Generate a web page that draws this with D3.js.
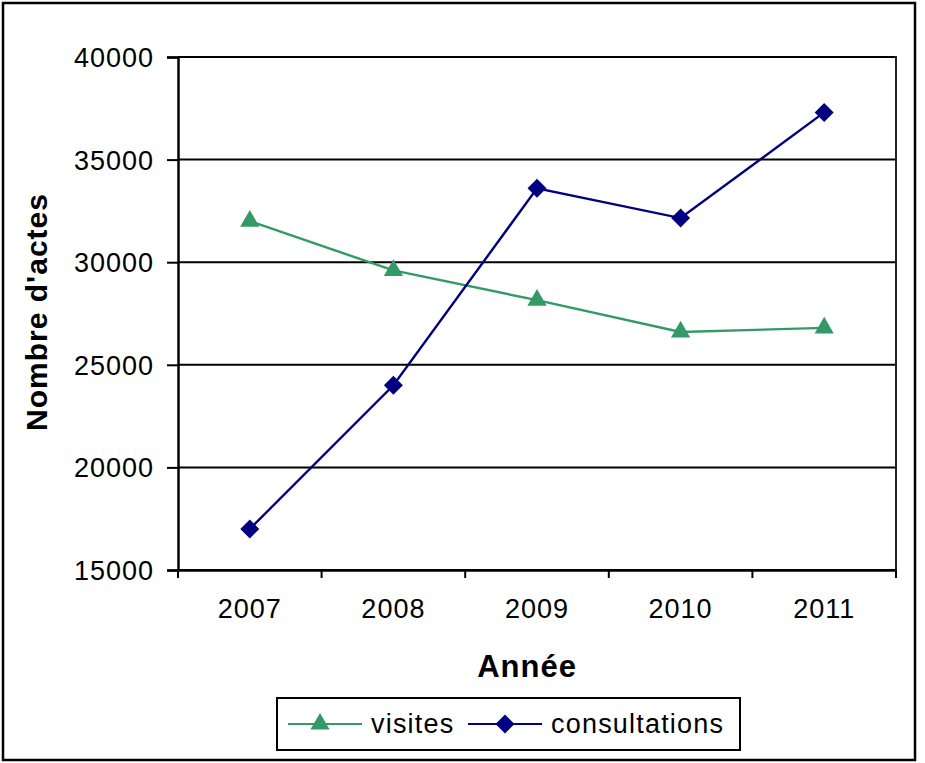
<!DOCTYPE html>
<meta charset="utf-8">
<style>
body { margin: 0; background: #fff; }
text { font-family: Arial, "Liberation Sans", sans-serif; letter-spacing: 1px; }
</style>
<svg width="925" height="763"></svg>
<script src="https://d3js.org/d3.v7.min.js"></script>
<script>
var svg = d3.select("svg");

// data
var years = ["2007", "2008", "2009", "2010", "2011"];
var visites = [32000, 29600, 28150, 26600, 26800];
var consultations = [17000, 24000, 33600, 32150, 37300];
var yTicks = [15000, 20000, 25000, 30000, 35000, 40000];

// diamond = square turned 45 degrees
var diamond = {draw: function(ctx, size) {
  var r = Math.sqrt(size / 2);
  ctx.moveTo(0, -r); ctx.lineTo(r, 0); ctx.lineTo(0, r); ctx.lineTo(-r, 0); ctx.closePath();
}};

var series = [
  {name: "visites", values: visites, color: "#339966", shape: d3.symbolTriangle, size: 160},
  {name: "consultations", values: consultations, color: "#000080", shape: diamond, size: 180}
];

var pLeft = 178, pRight = 896, pTop = 57, pBottom = 570;

//outer frame
svg.append("rect")
  .attr("x", 3).attr("y", 3).attr("width", 912).attr("height", 757)
  .attr("fill", "#fff").attr("stroke", "#000").attr("stroke-width", 2.5);

var x = d3.scaleBand().domain(years).range([pLeft, pRight]);
var y = d3.scaleLinear().domain([15000, 40000]).range([pBottom, pTop]);

//gridlines
svg.append("g")
  .selectAll("line")
  .data(yTicks)
  .enter().append("line")
  .attr("x1", pLeft).attr("x2", pRight)
  .attr("y1", d => y(d)).attr("y2", d => y(d))
  .attr("stroke", "#000").attr("stroke-width", 2);

//right border of plot area
svg.append("line")
  .attr("x1", pRight).attr("x2", pRight).attr("y1", pTop - 1).attr("y2", pBottom)
  .attr("stroke", "#222").attr("stroke-width", 2);

//y axis
var yAxis = svg.append("g")
  .attr("transform", "translate(" + pLeft + ",0)")
  .call(d3.axisLeft(y).tickValues(yTicks).tickSize(11).tickPadding(13).tickFormat(d3.format("d")));
yAxis.select(".domain").attr("stroke-width", 2.5);
yAxis.selectAll(".tick line").attr("stroke-width", 2);
yAxis.selectAll("text").attr("font-size", 27).attr("fill", "#000").attr("dy", "0.35em");

//x axis, ticks at band edges
var xAxis = svg.append("g")
  .attr("transform", "translate(0," + pBottom + ")")
  .call(d3.axisBottom(x).tickSize(0).tickPadding(29));
xAxis.select(".domain").attr("stroke-width", 2.5);
xAxis.selectAll("text").attr("font-size", 27).attr("fill", "#000");
xAxis.selectAll(".edge")
  .data(years.concat(["end"]))
  .enter().append("line")
  .attr("class", "edge")
  .attr("x1", (d, i) => pLeft + i * x.step()).attr("x2", (d, i) => pLeft + i * x.step())
  .attr("y1", 0).attr("y2", 8)
  .attr("stroke", "#000").attr("stroke-width", 2);

//axis titles
svg.append("text")
  .attr("transform", "translate(47,312) rotate(-90)")
  .attr("text-anchor", "middle")
  .attr("font-size", 30).attr("font-weight", "bold")
  .text("Nombre d'actes");
svg.append("text")
  .attr("x", 527).attr("y", 677)
  .attr("text-anchor", "middle")
  .attr("font-size", 31).attr("font-weight", "bold")
  .text("Année");

//lines and markers
var line = d3.line()
  .x((d, i) => x(years[i]) + x.bandwidth() / 2)
  .y(d => y(d));

series.forEach(function(s) {
  svg.append("path")
    .attr("d", line(s.values))
    .attr("fill", "none")
    .attr("stroke", s.color).attr("stroke-width", 2.4);
  svg.append("g")
    .selectAll("path")
    .data(s.values)
    .enter().append("path")
    .attr("d", d3.symbol().type(s.shape).size(s.size))
    .attr("transform", (d, i) => "translate(" + (x(years[i]) + x.bandwidth() / 2) + "," + y(d) + ")")
    .attr("fill", s.color);
});

//legend
var legend = svg.append("g");
legend.append("rect")
  .attr("x", 277).attr("y", 698).attr("width", 463).attr("height", 52)
  .attr("fill", "#fff").attr("stroke", "#000").attr("stroke-width", 2);
var lx = [288, 468];
series.forEach(function(s, i) {
  var g = legend.append("g").attr("transform", "translate(" + lx[i] + ",724)");
  g.append("line").attr("x1", 0).attr("x2", 74).attr("y1", 0).attr("y2", 0)
    .attr("stroke", s.color).attr("stroke-width", 2.2);
  g.append("path")
    .attr("d", d3.symbol().type(s.shape).size(s.size))
    .attr("transform", "translate(" + (i === 0 ? 32 : 37) + ",0)")
    .attr("fill", s.color);
  g.append("text")
    .attr("x", 83).attr("y", 0).attr("dy", "0.35em")
    .attr("font-size", 27)
    .style("letter-spacing", "1.2px")
    .text(s.name);
});
</script>
